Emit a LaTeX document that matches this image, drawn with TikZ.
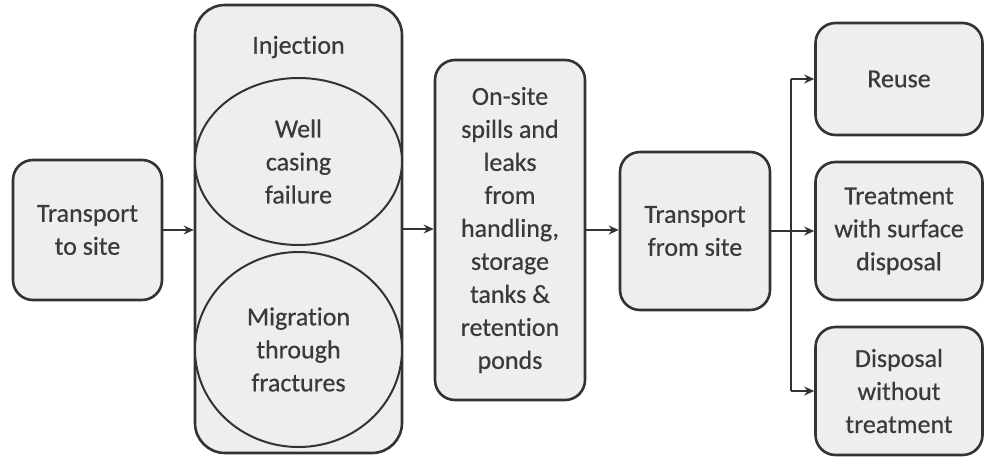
\documentclass[tikz,border=0pt]{standalone}
\usepackage{fontspec}
\setmainfont{Carlito}[Ligatures=NoCommon, FakeBold=0.5]
\usetikzlibrary{arrows.meta,shapes.geometric}
\definecolor{boxfill}{HTML}{EEEEEE}
\definecolor{lineC}{HTML}{333333}
\definecolor{textC}{HTML}{3A3A3A}
\tikzset{
  x=1pt, y=-1pt,
  every node/.style={font=\fontsize{26}{33}\selectfont, text=textC, align=center, inner sep=0pt},
  rbox/.style={draw=lineC, line width=2.6pt, fill=boxfill, rounded corners=20pt},
  ebox/.style={ellipse, draw=lineC, line width=2pt, fill=boxfill},
  arr/.style={draw=lineC, line width=1.6pt, -{Stealth[length=10pt,width=9pt]}},
  conn/.style={draw=lineC, line width=1.6pt},
}
\begin{document}
\begin{tikzpicture}
\useasboundingbox (0,0) rectangle (984,458);
\fill[white] (0,0) rectangle (984,458);
\node[rbox, minimum width=149pt, minimum height=140pt] (t2s) at (87.5,230) {Transport\\to site};
\node[rbox, rounded corners=30pt, minimum width=207pt, minimum height=448pt] (inj) at (298.5,229) {};
\node (injl) at (298.5,47) {Injection};
\node[ebox, minimum width=207pt, minimum height=167pt] (e1) at (298.5,161.5) {Well\\casing\\failure};
\node[ebox, minimum width=207pt, minimum height=195pt] (e2) at (298.5,349.5) {Migration\\through\\fractures};
\node[rbox, minimum width=150pt, minimum height=340pt] (ons) at (510,230) {On-site\\spills and\\leaks\\from\\handling,\\storage\\tanks \&\\retention\\ponds};
\node[rbox, minimum width=150pt, minimum height=158pt] (tfs) at (695,231) {Transport\\from site};
\node[rbox, minimum width=167pt, minimum height=112pt] (reuse) at (899,79) {Reuse};
\node[rbox, minimum width=167pt, minimum height=138pt] (treat) at (899,231) {Treatment\\with surface\\disposal};
\node[rbox, minimum width=167pt, minimum height=128pt] (disp) at (899,391) {Disposal\\without\\treatment};
\draw[arr] (t2s.east) -- (t2s.east -| inj.west);
\draw[arr] (inj.east) -- (inj.east -| ons.west);
\draw[arr] (ons.east) -- (ons.east -| tfs.west);
\coordinate (br) at (791,231);
\draw[arr] (tfs.east) -- (treat.west);
\draw[conn] (br |- reuse.west) -- (br |- disp.west);
\draw[arr] (br |- reuse.west) -- (reuse.west);
\draw[arr] (br |- disp.west) -- (disp.west);
\end{tikzpicture}
\end{document}
